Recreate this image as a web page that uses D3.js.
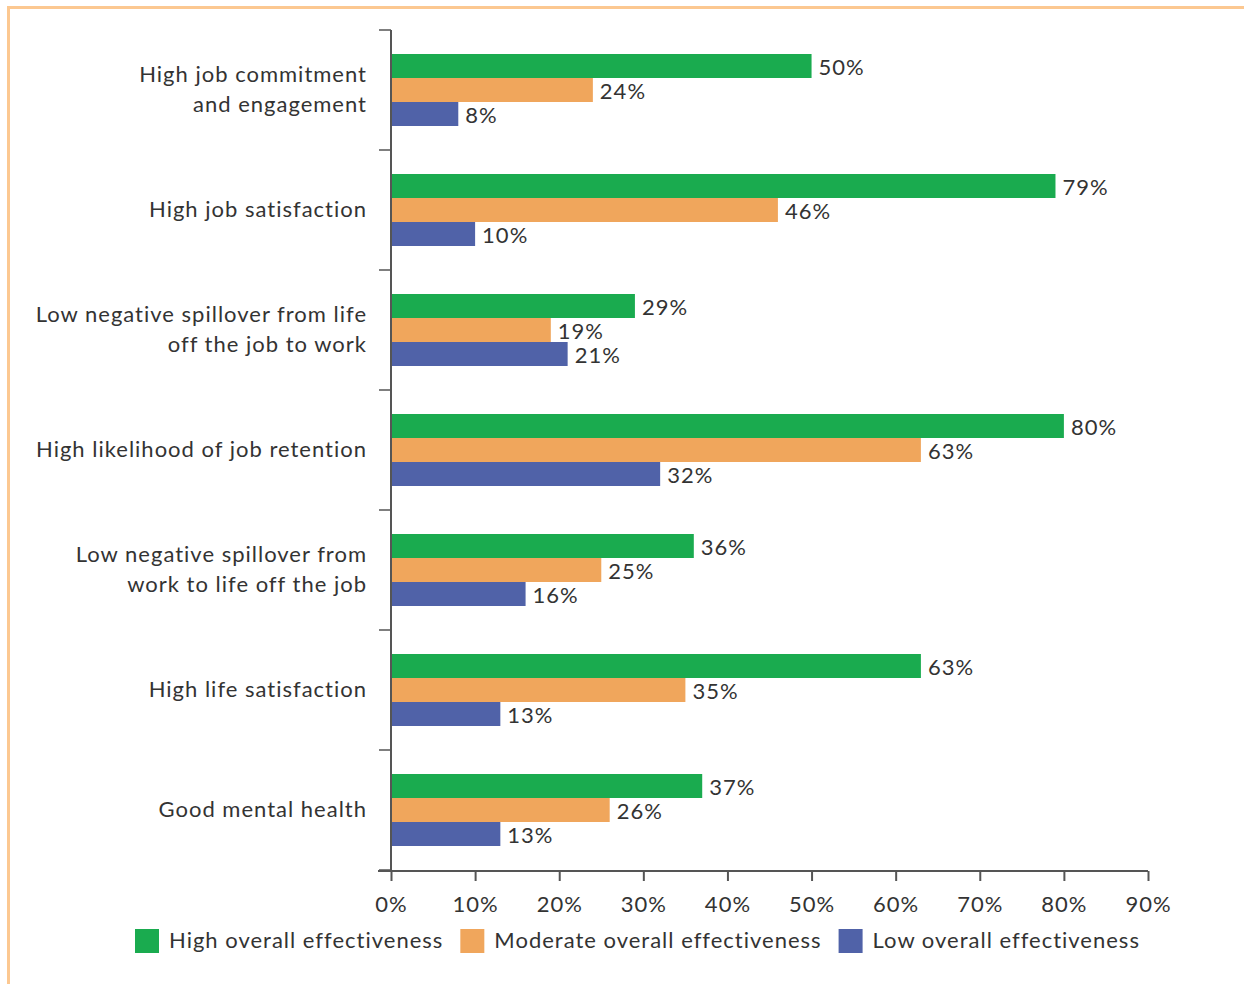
<!DOCTYPE html>
<html>
<head>
<meta charset="utf-8">
<script src="https://cdn.jsdelivr.net/npm/d3@7/dist/d3.min.js"></script>
<style>
  body { margin: 0; background: #fff; }
  text { font-family: Lato, "Noto Sans", sans-serif; fill: #333; letter-spacing: 1px; }
</style>
</head>
<body>
<div class="chart"></div>
<script>
var categories = [
  ["High job commitment", "and engagement"],
  ["High job satisfaction"],
  ["Low negative spillover from life", "off the job to work"],
  ["High likelihood of job retention"],
  ["Low negative spillover from", "work to life off the job"],
  ["High life satisfaction"],
  ["Good mental health"]
];
var seriesNames = ["High overall effectiveness", "Moderate overall effectiveness", "Low overall effectiveness"];
var high = [50, 79, 29, 80, 36, 63, 37];
var moderate = [24, 46, 19, 63, 25, 35, 26];
var low = [8, 10, 21, 32, 16, 13, 13];
var xTicks = [0, 10, 20, 30, 40, 50, 60, 70, 80, 90];
var colors = ["#1aab4f", "#f0a65c", "#5062a8"];

var width = 1244, height = 984;
var svg = d3.select(".chart").append("svg")
    .attr("width", width)
    .attr("height", height);

// orange frame, top and left only
svg.append("path")
    .attr("d", "M8.5,984 V7.5 H1244")
    .attr("fill", "none")
    .attr("stroke", "#fcc891")
    .attr("stroke-width", 3);

var x = d3.scaleLinear().domain([0, 90]).range([391, 1148]);
var y = d3.scaleBand().domain(d3.range(categories.length)).range([30, 870]);
var sub = d3.scaleBand().domain([0, 1, 2]).range([0, 72]);

var data = [high, moderate, low];

var groups = svg.append("g").attr("class", "groups")
  .selectAll("g")
  .data(categories)
  .enter().append("g")
    .attr("transform", function(d, i) { return "translate(0," + (y(i) + (y.bandwidth() - 72) / 2) + ")"; });

groups.selectAll("rect")
  .data(function(d, i) { return data.map(function(s) { return s[i]; }); })
  .enter().append("rect")
    .attr("x", x(0))
    .attr("y", function(d, j) { return sub(j); })
    .attr("width", function(d) { return x(d) - x(0); })
    .attr("height", sub.bandwidth())
    .attr("fill", function(d, j) { return colors[j]; });

groups.selectAll("text.val")
  .data(function(d, i) { return data.map(function(s) { return s[i]; }); })
  .enter().append("text")
    .attr("class", "val")
    .attr("x", function(d) { return x(d) + 7; })
    .attr("y", function(d, j) { return sub(j) + sub.bandwidth() / 2 + 1; })
    .attr("dy", "0.35em")
    .style("font-size", "22px")
    .text(function(d) { return d + "%"; });

// category labels
var labels = svg.append("g").attr("class", "labels")
  .selectAll("text")
  .data(categories)
  .enter().append("text")
    .attr("text-anchor", "end")
    .style("font-size", "22px")
    .attr("y", function(d, i) { return y(i) + y.bandwidth() / 2 - (d.length - 1) * 15; });

labels.selectAll("tspan")
  .data(function(d) { return d; })
  .enter().append("tspan")
    .attr("x", 367)
    .attr("dy", function(d, k) { return k === 0 ? "0.3em" : "30"; })
    .text(function(d) { return d; });

// y axis
var axisColor = "#555";
svg.append("line")
    .attr("x1", x(0)).attr("x2", x(0))
    .attr("y1", 30).attr("y2", 871)
    .attr("stroke", axisColor).attr("stroke-width", 2);
svg.append("g").selectAll("line")
  .data(d3.range(categories.length + 1))
  .enter().append("line")
    .attr("x1", 379).attr("x2", x(0))
    .attr("y1", function(i) { return i < categories.length ? y(i) : 870; })
    .attr("y2", function(i) { return i < categories.length ? y(i) : 870; })
    .attr("stroke", axisColor).attr("stroke-width", 1.5);

// x axis
var xAxis = svg.append("g")
    .attr("transform", "translate(0,871)")
    .call(d3.axisBottom(x).tickValues(xTicks).tickSize(10).tickSizeOuter(0).tickPadding(15)
      .tickFormat(function(d) { return d + "%"; }));
xAxis.select(".domain").attr("stroke", axisColor).attr("stroke-width", 2)
    .attr("d", "M378,0H" + x(90));
xAxis.selectAll(".tick line").attr("stroke", axisColor).attr("stroke-width", 2);
xAxis.selectAll(".tick text")
    .style("font-size", "22px")
    .style("font-family", "Lato, 'Noto Sans', sans-serif")
    .attr("fill", "#333");

// legend
var legend = svg.append("g").attr("class", "legend");
var lx = 135;
seriesNames.forEach(function(name, i) {
  legend.append("rect")
      .attr("x", lx).attr("y", 929)
      .attr("width", 24).attr("height", 24)
      .attr("fill", colors[i]);
  var t = legend.append("text")
      .attr("x", lx + 34).attr("y", 940)
      .attr("dy", "0.35em")
      .style("font-size", "22px")
      .text(name);
  lx += 34 + t.node().getComputedTextLength() + 17;
});
</script>
</body>
</html>
